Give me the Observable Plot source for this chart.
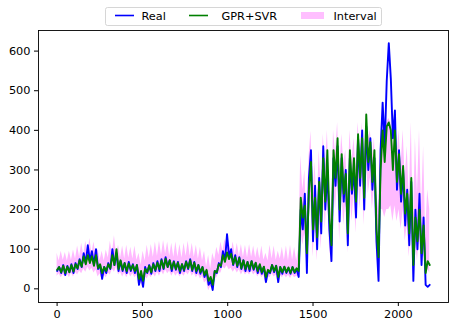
<!DOCTYPE html>
<html>
<head>
<meta charset="utf-8">
<script src="https://cdn.jsdelivr.net/npm/d3@7"></script>
<script src="https://cdn.jsdelivr.net/npm/@observablehq/plot@0.6"></script>
<style>
  html, body { margin: 0; padding: 0; background: #fff; }
  #wrap { position: relative; width: 457px; height: 327px; font-family: "DejaVu Sans", sans-serif; }
  #legend { position: absolute; left: 0; top: 0; }
</style>
</head>
<body>
<div id="wrap"></div>
<script>
// sampling step of the series (time index units)
const step = 12;

// Real series (one value every `step` indices)
const real = [
  45,55,40,60,35,58,42,62,40,65,
  50,75,55,90,65,110,70,95,60,100,
  50,60,25,55,40,65,50,100,60,90,
  45,70,45,65,40,68,45,62,40,60,
  10,35,5,55,40,60,38,65,45,70,
  45,75,50,80,55,72,45,70,48,68,
  40,62,45,70,50,75,45,68,40,60,
  38,55,30,45,10,20,-3,45,40,65,
  55,95,70,138,80,100,60,85,55,80,
  50,72,45,68,45,70,48,65,40,60,
  38,55,17,45,40,60,42,58,17,55,
  38,55,40,52,38,55,40,50,30,
  200,150,240,40,280,350,120,260,100,280,
  140,360,200,300,150,70,330,260,360,170,
  330,220,300,110,330,240,300,180,380,260,
  400,200,410,300,380,250,330,120,20,350,
  470,360,525,620,530,380,450,250,350,220,
  300,160,250,110,270,20,200,100,240,60,
  180,10,5,10
];

// GPR+SVR prediction
const pred = [
  48,55,42,58,40,56,42,60,44,62,
  52,72,56,82,62,85,65,82,58,85,
  52,62,40,55,45,62,52,85,60,100,
  50,72,48,65,45,64,48,60,45,60,
  25,45,20,50,42,58,42,62,48,66,
  50,72,52,76,55,72,50,68,50,66,
  45,62,48,68,52,72,48,66,45,60,
  42,55,35,48,20,30,10,45,42,62,
  58,85,68,92,75,88,62,80,58,78,
  52,72,50,68,50,70,50,66,45,62,
  42,56,30,48,42,60,45,58,30,55,
  42,56,42,54,40,55,42,52,45,
  230,180,210,90,250,320,150,230,130,270,
  170,330,220,350,180,110,350,280,380,200,
  340,240,290,140,350,250,330,220,390,280,
  380,230,440,320,370,270,350,150,80,300,
  400,320,410,420,400,300,400,270,340,240,
  310,190,240,140,280,60,180,120,200,90,
  160,40,70,60
];

// Interval upper bound
const hi = [
  90,70,95,72,92,70,95,72,98,75,
  108,80,115,85,120,88,127,90,118,85,
  100,72,95,70,98,78,120,90,134,88,
  110,78,108,75,110,78,105,75,108,72,
  90,60,95,70,110,78,112,80,118,82,
  120,85,122,88,118,82,115,80,118,80,
  112,78,115,82,120,82,115,80,110,75,
  105,70,95,55,85,50,90,72,105,85,
  118,95,125,100,120,90,118,85,115,82,
  112,80,110,78,112,80,108,78,105,75,
  108,72,90,70,110,75,108,72,95,75,
  105,72,108,70,110,72,105,70,
  100,
  336,250,300,160,330,398,230,320,200,350,
  250,390,300,400,260,180,400,340,420,280,
  390,320,350,220,400,320,380,300,420,340,
  420,300,450,380,400,330,380,240,200,370,
  420,380,420,430,420,360,430,330,400,310,
  400,280,360,230,420,160,380,240,400,200,
  360,140,250,200
];

// Interval lower bound
const lo = [
  32,38,28,36,30,38,28,40,30,42,
  35,45,38,50,42,55,45,52,40,48,
  30,38,20,35,28,40,35,50,42,55,
  35,42,30,40,28,40,30,38,28,35,
  5,15,0,30,25,35,28,38,30,42,
  32,45,35,48,38,45,32,42,32,40,
  30,38,32,42,35,45,32,40,28,36,
  25,32,15,20,-5,5,0,25,28,40,
  40,55,50,58,48,52,42,50,40,48,
  35,45,35,42,35,45,35,42,30,38,
  28,35,10,30,28,38,30,35,12,35,
  28,35,28,34,26,35,28,32,
  30,
  150,110,140,60,170,230,80,160,70,190,
  100,250,150,260,110,60,260,200,290,120,
  260,160,220,90,260,170,240,140,300,200,
  290,160,330,240,280,200,260,90,50,200,
  200,180,200,200,210,170,210,170,200,150,
  200,120,160,80,180,40,120,70,130,60,
  100,30,50,40
];

const xTicks = [0, 500, 1000, 1500, 2000];
const yTicks = [0, 100, 200, 300, 400, 500, 600];
const seriesNames = ["Real", "GPR+SVR", "Interval"];

const data = real.map((v, k) => ({t: k * step, real: v, pred: pred[k], hi: hi[k], lo: lo[k]}));

const chart = Plot.plot({
  width: 457,
  height: 327,
  marginLeft: 38,
  marginRight: 9,
  marginTop: 30,
  marginBottom: 25,
  style: {fontFamily: "DejaVu Sans, sans-serif", fontSize: "11.3px", color: "#000", background: "#fff"},
  x: {domain: [-109, 2294]},
  y: {domain: [-34.5, 652]},
  marks: [
    Plot.areaY(data, {x: "t", y1: "lo", y2: "hi", fill: "#ff00ff", fillOpacity: 0.27}),
    Plot.lineY(data, {x: "t", y: "real", stroke: "#0000ff", strokeWidth: 1.9}),
    Plot.lineY(data, {x: "t", y: "pred", stroke: "#008000", strokeWidth: 1.9}),
    Plot.axisX({ticks: xTicks, tickSize: 4, tickPadding: 3, label: null, tickFormat: d => String(d)}),
    Plot.axisY({ticks: yTicks, tickSize: 4, tickPadding: 4, label: null, tickFormat: d => String(d)}),
    Plot.frame({stroke: "#000", strokeWidth: 0.9})
  ]
});
document.getElementById("wrap").appendChild(chart);

// Legend (matplotlib-style, above the plot area)
const ns = "http://www.w3.org/2000/svg";
const leg = document.createElementNS(ns, "svg");
leg.setAttribute("id", "legend");
leg.setAttribute("width", 457);
leg.setAttribute("height", 30);
const colors = ["#0000ff", "#008000", "#ff00ff"];
const handleX = [115, 189, 301];
const textX = [141.5, 221.5, 333.5];
let html = `<rect x="105.5" y="7.5" width="276" height="18" rx="2" fill="#fff" fill-opacity="0.8" stroke="#cccccc" stroke-width="0.8"/>`;
seriesNames.forEach((name, i) => {
  if (i < 2) {
    html += `<line x1="${handleX[i]}" x2="${handleX[i] + 19}" y1="15.5" y2="15.5" stroke="${colors[i]}" stroke-width="1.6"/>`;
  } else {
    html += `<rect x="${handleX[i]}" y="12" width="23" height="7" fill="${colors[i]}" fill-opacity="0.25"/>`;
  }
  html += `<text x="${textX[i]}" y="19.5" font-family="DejaVu Sans" font-size="11.3" fill="#000">${name}</text>`;
});
leg.innerHTML = html;
document.getElementById("wrap").appendChild(leg);
</script>
</body>
</html>
